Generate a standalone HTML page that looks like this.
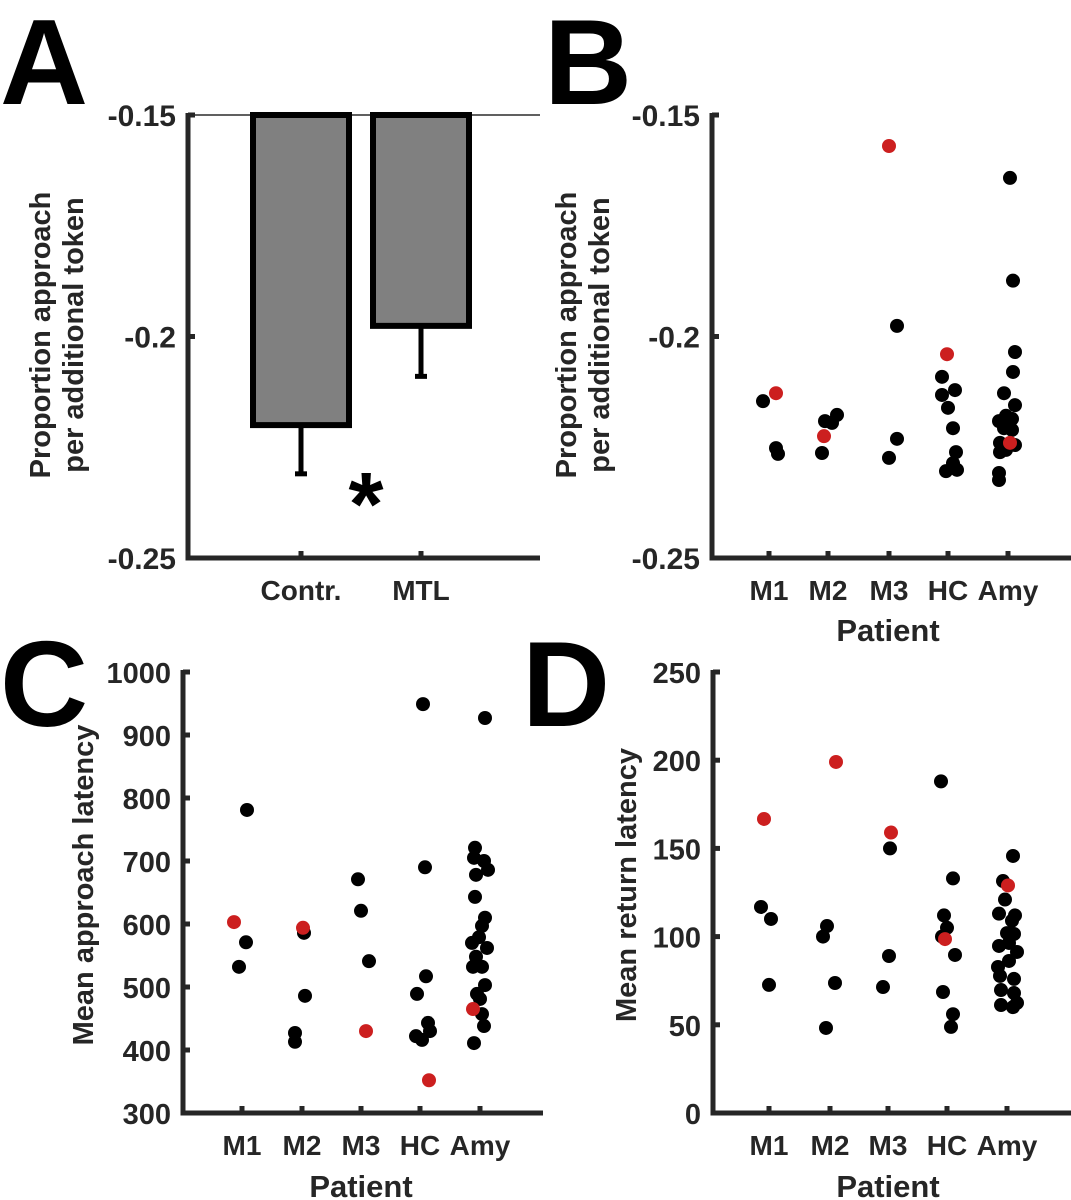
<!DOCTYPE html>
<html><head><meta charset="utf-8"><style>
html,body{margin:0;padding:0;background:#fff}
svg{display:block}
text{font-family:"Liberation Sans",Arial,sans-serif;font-weight:bold;fill:#262626}
</style></head><body>
<svg id="fig" width="1071" height="1200" viewBox="0 0 1071 1200" xmlns="http://www.w3.org/2000/svg">
<text x="0" y="104" font-size="122" style="fill:#000">A</text>
<text x="544" y="104" font-size="122" style="fill:#000">B</text>
<text x="0" y="726" font-size="122" style="fill:#000">C</text>
<text x="522" y="726" font-size="122" style="fill:#000">D</text>
<g id="gA"></g>
<g id="gB"></g>
<g id="gC"></g>
<g id="gD"></g>
</svg>
<script>
// Panel A data
const barCats = ["Contr.", "MTL"];
const barVals = [-0.2200, -0.1976];
const barErr = [-0.2310, -0.2090];
const propTicks = [-0.15, -0.2, -0.25];
const propTickLabels = ["-0.15", "-0.2", "-0.25"];
const patients = ["M1", "M2", "M3", "HC", "Amy"];

// Panel B data: patient index, value, red flag, jitter(px)
const bCat = [0,0,0,0, 1,1,1,1,1, 2,2,2,2, 3,3,3,3,3,3,3,3,3,3, 4,4,4,4,4,4,4,4,4,4,4,4,4,4,4,4,4,4];
const bVal = [-0.2128,-0.2146,-0.2252,-0.2265, -0.2191,-0.2195,-0.2177,-0.2225,-0.2263, -0.1570,-0.1976,-0.2231,-0.2274,
 -0.2040,-0.2091,-0.2121,-0.2132,-0.2161,-0.2207,-0.2261,-0.2286,-0.2304,-0.2301,
 -0.1642,-0.1874,-0.2035,-0.2080,-0.2128,-0.2155,-0.2191,-0.2179,-0.2186,-0.2207,-0.2211,-0.2240,-0.2245,-0.2261,-0.2256,-0.2240,-0.2308,-0.2324];
const bRed = [1,0,0,0, 0,0,0,1,0, 1,0,0,0, 1,0,0,0,0,0,0,0,0,0, 0,0,0,0,0,0,0,0,0,0,0,0,0,0,0,1,0,0];
const bJit = [7,-6,7,9, -3,4,9,-4,-6, 0,8,8,0, -1,-6,7,-6,0,5,8,5,-2,9, 2,5,7,5,-4,7,-9,-2,4,-4,4,-8,7,-8,-2,2,-9,-9];

// Panel C data
const cCat = [0,0,0,0, 1,1,1,1,1, 2,2,2,2, 3,3,3,3,3,3,3,3,3, 4,4,4,4,4,4,4,4,4,4,4,4,4,4,4,4,4,4,4,4,4,4];
const cVal = [603,781,571,532, 594,586,486,427,413, 671,621,541,430, 949,690,517,489,443,430,422,416,352,
 927,721,705,700,686,678,643,610,597,579,570,562,548,532,532,503,489,481,465,457,438,411];
const cRed = [1,0,0,0, 1,0,0,0,0, 0,0,0,1, 0,0,0,0,0,0,0,0,1, 0,0,0,0,0,0,0,0,0,0,0,0,0,0,0,0,0,0,1,0,0,0];
const cJit = [-8,5,4,-3, 1,2,3,-7,-7, -3,0,8,5, 3,5,6,-3,8,10,-4,2,9, 5,-5,-6,4,8,-4,-5,5,2,-1,-8,7,-4,-7,2,5,-3,0,-7,2,4,-6];
const cTicks = [300,400,500,600,700,800,900,1000];

// Panel D data
const dCat = [0,0,0,0, 1,1,1,1,1, 2,2,2,2, 3,3,3,3,3,3,3,3,3,3, 4,4,4,4,4,4,4,4,4,4,4,4,4,4,4,4,4,4,4,4,4];
const dVal = [166.7,116.8,110,72.6, 199,106,100,73.7,48.2, 159,150,89,71.4,
 188,133,112,105,100,98.6,89.6,68.6,56,48.8,
 145.7,129,131.5,121,113,112,109,102,101.5,94.7,96.4,91.3,86.2,82.8,77.7,76,69.7,68,61.2,60,62.4];
const dRed = [1,0,0,0, 1,0,0,0,0, 1,0,0,0, 0,0,0,0,0,1,0,0,0,0, 0,1,0,0,0,0,0,0,0,0,0,0,0,0,0,0,0,0,0,0,0];
const dJit = [-5,-8,2,0, 6,-3,-7,5,-4, 3,2,1,-5, -6,6,-3,0,-5,-2,8,-4,6,4, 6,1,-4,-2,-8,8,5,0,7,-8,2,10,2,-9,-7,7,-6,7,-6,6,10];
const dTicks = [0,50,100,150,200,250];

const NS = "http://www.w3.org/2000/svg";
function mk(parent, tag, attrs, txt){
  const e = document.createElementNS(NS, tag);
  for (const k in attrs) e.setAttribute(k, attrs[k]);
  if (txt !== undefined) e.textContent = txt;
  parent.appendChild(e);
  return e;
}
const AX = "#262626";

function axes(g, x0, x1, yTop, yBot, yScale, ticks, labels, fs, xticks, xlabels){
  let e;
  e = mk(g, "line", {x1:x0, y1:yTop-2, x2:x0, y2:yBot+2.5, stroke:AX, "stroke-width":5});
  
  
  e = mk(g, "line", {x1:x0-2.5, y1:yBot, x2:x1, y2:yBot, stroke:AX, "stroke-width":5});
  
  
  ticks.forEach((t, i) => {
    const y = yScale(t);
    e = mk(g, "line", {x1:x0, y1:y, x2:x0+7, y2:y, stroke:AX, "stroke-width":5});
    
    
    e = mk(g, "text", {x:x0-12, y:y+11, "font-size":fs, "text-anchor":"end"}, labels[i]);
    
    
  });
  xticks.forEach((x, i) => {
    e = mk(g, "line", {x1:x, y1:yBot, x2:x, y2:yBot-7, stroke:AX, "stroke-width":5});
    
    
    e = mk(g, "text", {x:x, y:yBot+42, "font-size":28, "text-anchor":"middle"}, xlabels[i]);
    
    
  });
}
function ytitle(g, x, yc, lines, fs){
  lines.forEach((s, i) => {
    const e = mk(g, "text", {x:0, y:0, "font-size":fs, "text-anchor":"middle",
      transform:`translate(${x + i*33},${yc}) rotate(-90)`}, s);
    
    
  });
}
function xtitle(g, x, y){
  const e = mk(g, "text", {x:x, y:y, "font-size":31, "text-anchor":"middle"}, "Patient");
  
  
}
function dots(g, cats, vals, reds, jits, xPos, yScale){
  [0,1].forEach(pass => {
    vals.forEach((v, i) => {
      if (reds[i] !== pass) return;
      const e = mk(g, "circle", {cx:xPos[cats[i]] + jits[i], cy:yScale(v), r:7, fill: reds[i] ? "#cc1f1f" : "#000"});
      
      
    });
  });
}

// Panel A
(function(){
  const g = document.getElementById("gA");
  const yS = v => 115 + (-0.15 - v) / 0.1 * 443;
  const xc = [301, 421], bw = 96;
  let e = mk(g, "line", {x1:188, y1:115, x2:540, y2:115, stroke:"#000", "stroke-width":1.2});
  
  
  barVals.forEach((v, i) => {
    const yb = yS(barVals[i]);
    e = mk(g, "line", {x1:xc[i], y1:yb, x2:xc[i], y2:yS(barErr[i]), stroke:"#000", "stroke-width":5});
    
    
    e = mk(g, "line", {x1:xc[i]-6, y1:yS(barErr[i]), x2:xc[i]+6, y2:yS(barErr[i]), stroke:"#000", "stroke-width":5});
    
    
    e = mk(g, "rect", {x:xc[i]-bw/2, y:yS(-0.15), width:bw, height:yb - yS(-0.15), fill:"#808080", stroke:"#000", "stroke-width":6});
    
    
  });
  axes(g, 188, 540, 115, 558, yS, propTicks, propTickLabels, 30, xc, barCats);
  e = mk(g, "text", {x:366, y:535, "font-size":90, "text-anchor":"middle", style:"fill:#000"}, "*");
  
  
  ytitle(g, 50, 335, ["Proportion approach", "per additional token"], 29);
})();

// Panel B
(function(){
  const g = document.getElementById("gB");
  const yS = v => 115 + (-0.15 - v) / 0.1 * 443;
  const xs = [769, 828, 889, 948, 1008];
  axes(g, 712, 1071, 115, 558, yS, propTicks, propTickLabels, 30, xs, patients);
  dots(g, bCat, bVal, bRed, bJit, xs, yS);
  ytitle(g, 576, 335, ["Proportion approach", "per additional token"], 29);
  xtitle(g, 888, 641);
})();

// Panel C
(function(){
  const g = document.getElementById("gC");
  const yS = v => 1113 - (v - 300) / 700 * 441;
  const xs = [242, 302, 361, 420, 480];
  axes(g, 183, 543, 672, 1113, yS, cTicks, cTicks.map(String), 29, xs, patients);
  dots(g, cCat, cVal, cRed, cJit, xs, yS);
  ytitle(g, 93, 885, ["Mean approach latency"], 29);
  xtitle(g, 361, 1197);
})();

// Panel D
(function(){
  const g = document.getElementById("gD");
  const yS = v => 1113 - v / 250 * 441;
  const xs = [769, 830, 888, 947, 1007];
  axes(g, 713, 1071, 672, 1113, yS, dTicks, dTicks.map(String), 29, xs, patients);
  dots(g, dCat, dVal, dRed, dJit, xs, yS);
  ytitle(g, 636, 885, ["Mean return latency"], 29);
  xtitle(g, 888, 1197);
})();
</script>
</body></html>
